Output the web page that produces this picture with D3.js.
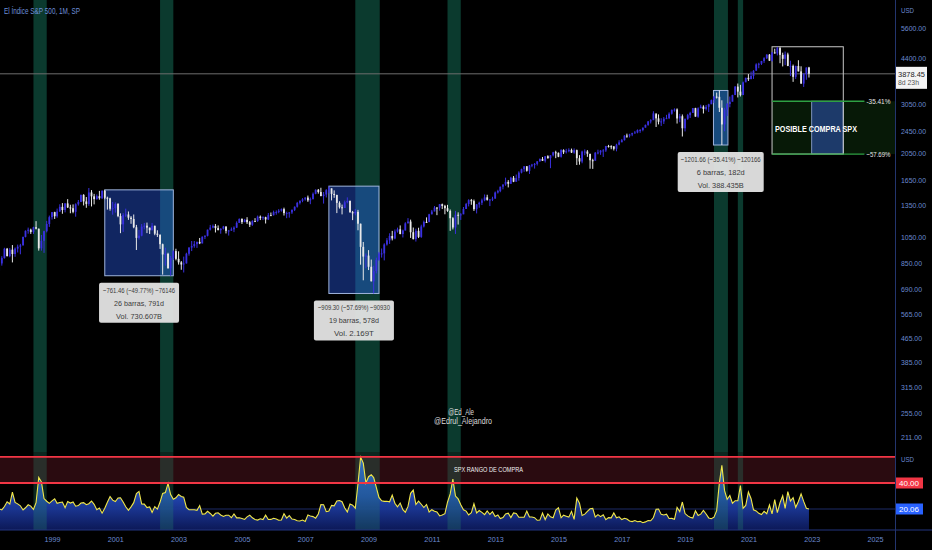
<!DOCTYPE html>
<html><head><meta charset="utf-8">
<script src="https://cdn.jsdelivr.net/npm/d3@7"></script>
<style>html,body{margin:0;padding:0;background:#000;overflow:hidden}svg{display:block}</style>
</head><body>
<svg id="c" width="932" height="550"></svg>
<script>
// ---------- DATA ----------
const firstMonth = [1997, 0];          // Jan 1997
const firstOpen = 740.74;              // Dec 1996 close
const closes = [
786.16,790.82,757.12,801.34,848.28,885.14,954.31,899.47,947.28,914.62,955.40,970.43,
980.28,1049.34,1101.75,1111.75,1090.82,1133.84,1120.67,957.28,1017.01,1098.67,1163.63,1229.23,
1279.64,1238.33,1286.37,1335.18,1301.84,1372.71,1328.72,1320.41,1282.71,1362.93,1388.91,1469.25,
1394.46,1366.42,1498.58,1452.43,1420.60,1454.60,1430.83,1517.68,1436.51,1429.40,1314.95,1320.28,
1366.01,1239.94,1160.33,1249.46,1255.82,1224.42,1211.23,1133.58,1040.94,1059.78,1139.45,1148.08,
1130.20,1106.73,1147.39,1076.92,1067.14,989.82,911.62,916.07,815.28,885.76,936.31,879.82,
855.70,841.15,848.18,916.92,963.59,974.50,990.31,1008.01,995.97,1050.71,1058.20,1111.92,
1131.13,1144.94,1126.21,1107.30,1120.68,1140.84,1101.72,1104.24,1114.58,1130.20,1173.82,1211.92,
1181.27,1203.60,1180.59,1156.85,1191.50,1191.33,1234.18,1220.33,1228.81,1207.01,1249.48,1248.29,
1280.08,1280.66,1294.83,1310.61,1270.09,1270.20,1276.66,1303.82,1335.85,1377.94,1400.63,1418.30,
1438.24,1406.82,1420.86,1482.37,1530.62,1503.35,1455.27,1473.99,1526.75,1549.38,1481.14,1468.36,
1378.55,1330.63,1322.70,1385.59,1400.38,1280.00,1267.38,1282.83,1166.36,968.75,896.24,903.25,
825.88,735.09,797.87,872.81,919.14,919.32,987.48,1020.62,1057.08,1036.19,1095.63,1115.10,
1073.87,1104.49,1169.43,1186.69,1089.41,1030.71,1101.60,1049.33,1141.20,1183.26,1180.55,1257.64,
1286.12,1327.22,1325.83,1363.61,1345.20,1320.64,1292.28,1218.89,1131.42,1253.30,1246.96,1257.60,
1312.41,1365.68,1408.47,1397.91,1310.33,1362.16,1379.32,1406.58,1440.67,1412.16,1416.18,1426.19,
1498.11,1514.68,1569.19,1597.57,1630.74,1606.28,1685.73,1632.97,1681.55,1756.54,1805.81,1848.36,
1782.59,1859.45,1872.34,1883.95,1923.57,1960.23,1930.67,2003.37,1972.29,2018.05,2067.56,2058.90,
1994.99,2104.50,2067.89,2085.51,2107.39,2063.11,2103.84,1972.18,1920.03,2079.36,2080.41,2043.94,
1940.24,1932.23,2059.74,2065.30,2096.95,2098.86,2173.60,2170.95,2168.27,2126.15,2198.81,2238.83,
2278.87,2363.64,2362.72,2384.20,2411.80,2423.41,2470.30,2471.65,2519.36,2575.26,2647.58,2673.61,
2823.81,2713.83,2640.87,2648.05,2705.27,2718.37,2816.29,2901.52,2913.98,2711.74,2760.17,2506.85,
2704.10,2784.49,2834.40,2945.83,2752.06,2941.76,2980.38,2926.46,2976.74,3037.56,3140.98,3230.78,
3225.52,2954.22,2584.59,2912.43,3044.31,3100.29,3271.12,3500.31,3363.00,3269.96,3621.63,3756.07,
3714.24,3811.15,3972.89,4181.17,4204.11,4297.50,4395.26,4522.68,4307.54,4605.38,4567.00,4766.18,
4515.55,4373.94,4530.41,4131.93,4132.15,3785.38,4130.29,3955.00,3585.62,3871.98,4080.11,3878.45];
const highs = [
794.67,817.68,814.90,804.13,851.87,898.70,961.72,960.32,960.46,983.12,963.88,986.25,
992.65,1051.41,1105.65,1130.52,1121.02,1138.49,1190.58,1121.67,1066.11,1102.94,1192.97,1244.93,
1280.37,1283.70,1316.55,1362.80,1375.98,1375.03,1420.33,1357.74,1361.71,1373.17,1410.50,1473.00,
1478.00,1444.55,1552.87,1527.19,1481.51,1474.64,1517.32,1525.21,1530.09,1448.72,1436.28,1389.06,
1383.37,1376.38,1267.42,1269.30,1315.93,1286.62,1239.78,1255.81,1155.40,1110.61,1163.38,1173.62,
1176.97,1130.20,1173.94,1147.84,1106.59,1070.74,994.46,962.70,924.02,900.96,941.82,954.28,
935.05,864.64,895.90,924.24,965.38,1015.33,1015.41,1011.01,1040.29,1053.79,1063.65,1112.56,
1155.38,1158.98,1163.23,1150.57,1123.95,1146.18,1140.84,1109.68,1131.54,1142.05,1188.46,1217.33,
1217.80,1212.44,1229.11,1191.88,1199.56,1219.59,1245.15,1245.86,1237.91,1233.34,1270.64,1275.80,
1294.90,1297.57,1310.88,1318.16,1326.70,1284.72,1280.42,1306.74,1340.28,1389.45,1407.89,1431.81,
1441.61,1461.57,1438.89,1498.02,1535.56,1540.56,1555.90,1503.89,1538.74,1576.09,1545.79,1523.57,
1471.77,1396.02,1359.68,1404.57,1440.24,1404.05,1292.17,1313.15,1303.04,1167.03,1007.51,918.85,
943.85,875.01,832.98,888.70,930.17,956.23,996.68,1039.47,1080.15,1101.36,1113.69,1130.38,
1150.45,1112.42,1180.16,1219.80,1205.13,1131.23,1120.95,1129.24,1157.16,1196.14,1227.08,1262.60,
1302.67,1344.07,1332.28,1366.31,1370.58,1356.48,1356.48,1307.38,1229.29,1292.66,1277.55,1269.37,
1333.47,1378.04,1419.15,1422.38,1415.32,1363.46,1391.74,1426.68,1474.51,1470.96,1419.70,1448.00,
1509.94,1530.94,1570.28,1597.57,1687.18,1654.19,1698.78,1709.67,1729.86,1775.22,1813.55,1849.44,
1850.84,1867.92,1883.97,1897.28,1924.03,1968.17,1991.39,2005.04,2019.26,2018.19,2075.76,2093.55,
2064.43,2119.59,2117.52,2125.92,2134.72,2129.87,2132.82,2112.66,2020.86,2094.32,2116.48,2104.27,
2038.20,1962.96,2072.21,2111.05,2103.48,2120.55,2177.09,2193.81,2187.87,2169.60,2214.10,2277.53,
2300.99,2371.54,2400.98,2398.16,2418.71,2453.82,2484.04,2490.87,2519.44,2582.98,2657.74,2694.97,
2872.87,2789.15,2801.90,2717.49,2742.10,2791.47,2848.03,2916.50,2940.91,2939.86,2815.15,2800.18,
2708.95,2813.49,2860.31,2949.52,2954.13,2964.15,3027.98,3013.59,3021.99,3050.10,3154.26,3247.93,
3337.77,3393.52,3136.72,2954.86,3068.67,3233.13,3279.99,3514.77,3588.11,3549.85,3645.99,3760.20,
3870.90,3950.43,3994.41,4218.78,4238.04,4302.43,4429.97,4537.36,4545.85,4608.08,4743.83,4808.93,
4818.62,4595.31,4637.30,4593.45,4307.66,4177.51,4140.15,4325.28,4119.28,3905.42,4080.11,4100.96];
const lows = [
737.01,773.43,756.13,733.54,793.21,833.40,882.03,897.41,891.36,855.27,894.57,926.07,
912.83,979.77,1045.18,1076.70,1074.67,1074.67,1114.30,939.98,939.87,923.32,1087.99,1136.89,
1205.46,1211.66,1223.50,1282.24,1263.11,1277.36,1323.19,1268.37,1268.37,1233.70,1348.34,1387.38,
1350.14,1325.07,1346.62,1339.40,1361.59,1413.91,1413.89,1421.05,1419.44,1305.79,1294.90,1254.07,
1274.62,1228.75,1081.19,1091.99,1232.00,1203.03,1165.54,1124.87,944.75,1026.76,1054.31,1114.51,
1081.66,1074.36,1106.73,1063.46,1048.96,952.92,775.68,833.44,815.28,768.63,872.05,869.45,
840.34,806.29,788.90,847.85,902.83,936.69,962.10,960.84,990.36,995.97,1031.20,1053.41,
1105.08,1124.44,1087.16,1107.23,1076.32,1113.32,1078.78,1060.72,1101.29,1090.19,1127.60,1173.76,
1163.75,1180.59,1163.69,1136.15,1146.18,1188.30,1183.55,1201.07,1201.07,1168.20,1201.07,1246.59,
1245.74,1253.61,1268.42,1284.60,1245.34,1219.29,1224.54,1261.30,1290.93,1327.10,1360.98,1385.93,
1403.97,1389.42,1363.98,1416.37,1476.70,1484.18,1454.25,1370.60,1439.29,1489.56,1406.10,1435.65,
1270.05,1316.75,1256.98,1324.35,1373.07,1272.00,1200.44,1247.45,1106.42,839.80,741.02,815.69,
804.30,734.52,666.79,783.32,866.10,888.86,869.32,978.51,992.25,1020.18,1029.38,1085.89,
1071.59,1044.50,1105.36,1170.69,1040.78,1028.33,1010.91,1039.70,1041.35,1131.87,1173.00,1186.60,
1257.62,1289.14,1249.05,1294.70,1311.80,1258.07,1282.86,1101.54,1114.22,1074.77,1158.66,1202.37,
1258.86,1312.41,1340.03,1357.38,1291.98,1266.74,1325.41,1354.65,1396.56,1403.28,1343.35,1398.11,
1426.19,1485.01,1501.48,1536.03,1581.28,1560.33,1604.57,1627.47,1633.41,1646.47,1746.20,1767.99,
1770.45,1737.92,1834.44,1814.36,1859.79,1915.98,1930.67,1904.78,1964.04,1820.66,2001.01,1972.56,
1988.12,1980.90,2039.69,2048.38,2067.93,2056.32,2044.02,1867.01,1871.91,1893.70,2019.39,1993.26,
1812.29,1810.10,1937.09,2033.80,2025.91,1991.68,2074.02,2147.58,2119.12,2097.85,2083.79,2187.44,
2245.13,2271.65,2322.25,2328.95,2352.72,2405.70,2407.70,2417.35,2446.55,2520.40,2557.45,2605.18,
2682.36,2532.69,2585.89,2553.80,2594.62,2698.67,2698.95,2796.34,2864.12,2603.54,2631.09,2346.58,
2443.96,2681.83,2722.27,2848.63,2750.52,2728.81,2952.22,2822.12,2891.85,2855.94,3050.72,3070.33,
3181.72,2855.84,2191.86,2447.49,2766.64,2965.66,3115.01,3284.53,3209.45,3233.94,3279.74,3633.40,
3662.71,3725.62,3723.34,4061.41,4056.88,4164.40,4233.13,4367.73,4305.91,4278.94,4560.00,4495.12,
4222.62,4114.65,4157.87,4124.28,3810.32,3636.87,3723.34,3954.53,3584.13,3491.58,3698.15,3764.49];
const vix = [
19.47,20.03,21.38,20.95,20.10,19.33,22.00,25.60,23.90,33.00,25.10,24.01,
22.50,19.30,21.00,23.30,22.30,19.70,24.90,44.30,40.90,28.10,26.00,24.40,
26.25,27.88,24.39,25.07,25.39,21.09,25.79,24.64,25.41,22.20,22.66,24.64,
24.95,23.37,24.11,26.20,23.65,19.54,20.74,16.84,20.57,25.29,29.65,26.85,
25.80,28.52,28.64,25.48,21.74,19.06,21.68,24.92,31.93,33.56,23.84,23.80,
21.09,21.59,17.40,21.91,19.98,25.40,32.03,32.64,39.69,31.14,27.50,28.62,
31.17,29.63,29.15,21.21,19.47,19.52,19.49,19.04,22.72,16.10,16.32,18.31,
16.63,14.55,16.74,17.19,15.50,14.34,15.32,15.29,13.34,16.27,13.24,13.29,
12.82,12.08,14.02,15.31,13.29,12.04,11.57,12.60,11.92,15.32,12.06,12.07,
12.95,12.34,11.39,11.59,16.44,13.08,14.95,12.31,11.98,11.10,10.91,11.56,
10.42,15.42,14.64,14.22,13.05,16.23,23.52,23.38,18.00,18.53,22.87,22.50,
26.20,26.54,25.61,20.79,17.83,23.95,22.94,20.65,39.39,59.89,55.28,40.00,
44.84,46.35,44.14,36.50,28.92,26.35,25.92,26.01,25.61,30.69,24.51,21.68,
24.62,19.50,17.59,22.05,32.07,34.54,23.50,26.05,23.70,21.20,23.54,17.75,
19.53,18.35,17.74,14.75,15.45,16.52,25.25,31.62,42.96,29.96,27.80,23.40,
19.44,18.43,15.50,17.15,24.06,17.08,18.93,17.47,15.73,18.60,15.87,18.02,
14.28,15.51,12.70,13.52,16.30,16.86,13.45,17.01,16.60,13.75,13.70,13.72,
18.41,14.00,13.88,13.41,11.40,11.57,16.95,11.98,16.31,14.03,13.33,19.20,
20.97,13.34,15.29,14.55,13.84,18.23,12.12,28.43,24.50,15.07,16.13,18.21,
20.20,20.55,13.95,15.70,14.19,15.63,11.87,13.42,13.29,17.06,13.33,14.04,
11.99,12.92,12.37,10.82,10.41,11.18,10.26,10.59,9.51,10.18,11.28,11.04,
13.54,19.85,19.97,15.93,15.43,16.09,12.83,12.86,12.12,21.23,18.07,25.42,
16.57,14.78,13.71,13.12,18.71,15.08,16.12,18.98,16.24,13.22,12.62,13.78,
18.84,40.11,53.54,34.15,27.51,30.43,24.46,26.41,26.37,38.02,20.57,22.75,
33.09,27.95,19.40,18.61,16.76,15.83,18.24,16.48,23.14,16.26,27.19,17.22,
24.83,30.15,20.56,33.40,26.19,28.71,21.33,25.87,31.62,25.88,20.58,20.06];

const priceTicks = [211,255,315,385,465,565,690,850,1050,1350,1650,2050,2450,3050,4400,5600];
const yearTicks = [1999,2001,2003,2005,2007,2009,2011,2013,2015,2017,2019,2021,2023,2025];
const bandStarts = ["1998-06-01","2002-06-01","2008-08-01","2011-07-01","2019-12-01","2020-09-01"];
const bandEnds   = ["1998-11-01","2002-11-01","2009-05-10","2011-12-01","2020-05-10","2020-11-01"];
const ddStart = ["2000-09-01","2007-10-01","2019-11-25"];
const ddEnd   = ["2002-11-01","2009-05-01","2020-05-10"];
const ddHigh  = [1530.09,1576.09,3393.52];
const ddLow   = [768.63,666.79,2191.86];
const ddText  = [
  ["\u2212761.46 (\u221249.77%) \u221276146","26 barras, 791d","Vol. 730.607B"],
  ["\u2212909.30 (\u221257.69%) \u221290930","19 barras, 578d","Vol. 2.169T"],
  ["\u22121201.66 (\u221235.41%) \u2212120166","6 barras, 182d","Vol. 388.435B"]];
const projPeak = 4818.62;
const projLevels = [3112.35, 2038.76];
const projLabels = ["-35.41%","\u221257.69%"];
const projDates = ["2021-10-01","2023-01-01","2024-01-01","2024-09-01"];
const lastPrice = 3878.45, lastTimer = "8d 23h";
const vixZone = [40, 60];
const vixLast = 20.06;

// ---------- SETUP ----------
const W = 932, H = 550, AX = 895, PRICE_BOTTOM = 452, IND_TOP = 452, IND_BOTTOM = 530;
const FONT = "'Liberation Sans', Arial, sans-serif";
const svg = d3.select("#c");
svg.append("rect").attr("width",W).attr("height",H).attr("fill","#000");
const P = s => new Date(s + "T00:00:00Z");
const x = d3.scaleUtc().domain([Date.UTC(1999,0,1), Date.UTC(2025,0,1)]).range([52, 875]);
const y = d3.scaleLog().domain([211, 5600]).range([437, 28]);
const yv = d3.scaleLinear().domain([vixLast, 40]).range([509, 483]);

function txt(parent, xx, yy, str, size, color, opts={}) {
  const t = parent.append("text").attr("x",xx).attr("y",yy).attr("dy","0.35em")
    .attr("fill",color).attr("font-family",FONT).attr("font-size",size).text(str);
  if (opts.anchor) t.attr("text-anchor",opts.anchor);
  if (opts.weight) t.attr("font-weight",opts.weight);
  if (opts.len) t.attr("textLength",opts.len).attr("lengthAdjust","spacingAndGlyphs");
  return t;
}

const defs = svg.append("defs");
defs.append("clipPath").attr("id","cp").append("rect").attr("x",0).attr("y",0).attr("width",AX).attr("height",PRICE_BOTTOM);
defs.append("clipPath").attr("id","ci").append("rect").attr("x",0).attr("y",IND_TOP).attr("width",AX).attr("height",IND_BOTTOM-IND_TOP);
const grad = defs.append("linearGradient").attr("id","vg").attr("gradientUnits","userSpaceOnUse")
  .attr("x1",0).attr("x2",0).attr("y1",456).attr("y2",IND_BOTTOM);
grad.append("stop").attr("offset",0).attr("stop-color","#3a6cf0");
grad.append("stop").attr("offset",0.55).attr("stop-color","#2348b8");
grad.append("stop").attr("offset",1).attr("stop-color","#0d1a5c");

const candles = closes.map((c,i)=>({
  date: new Date(Date.UTC(firstMonth[0], firstMonth[1]+i, 1)),
  open: i===0 ? firstOpen : closes[i-1], close: c, high: highs[i], low: lows[i], v: vix[i]}));

// ---------- BANDS (behind) ----------
const bandG = svg.append("g");
bandStarts.forEach((s,i)=>{
  bandG.append("rect").attr("x",x(P(s))).attr("width",x(P(bandEnds[i]))-x(P(s)))
    .attr("y",0).attr("height",PRICE_BOTTOM).attr("fill","#0b3a2e");
});

// ---------- PRICE PANE ----------
const pg = svg.append("g").attr("clip-path","url(#cp)");
pg.append("line").attr("x1",0).attr("x2",AX).attr("y1",y(lastPrice)).attr("y2",y(lastPrice))
  .attr("stroke","#6e6e6e").attr("stroke-width",1);

ddStart.forEach((s,i)=>{
  const x0 = x(P(s)), x1 = x(P(ddEnd[i]));
  pg.append("rect").attr("x",x0).attr("y",y(ddHigh[i])).attr("width",x1-x0).attr("height",y(ddLow[i])-y(ddHigh[i]))
    .attr("fill","rgba(45,100,255,0.38)").attr("stroke","#9fb4dc").attr("stroke-width",1);
});

const px0 = x(P(projDates[0])), px1 = x(P(projDates[1])), px2 = x(P(projDates[2])), px3 = x(P(projDates[3]));
pg.append("rect").attr("x",px0).attr("y",y(projLevels[0])).attr("width",AX-px0).attr("height",y(projLevels[1])-y(projLevels[0]))
  .attr("fill","rgba(40,150,40,0.17)");
pg.append("rect").attr("x",px1).attr("y",y(projLevels[0])).attr("width",px2-px1).attr("height",y(projLevels[1])-y(projLevels[0]))
  .attr("fill","#1d3a6a").attr("stroke","#7f93b8").attr("stroke-width",1);
pg.append("rect").attr("x",px0).attr("y",y(projPeak)).attr("width",px2-px0).attr("height",y(projLevels[1])-y(projPeak))
  .attr("fill","none").attr("stroke","#c8c8c8").attr("stroke-width",1);
projLevels.forEach((lv,i)=>{
  pg.append("line").attr("x1",px0).attr("x2",px3).attr("y1",y(lv)).attr("y2",y(lv))
    .attr("stroke","#2ea043").attr("stroke-width",1.3);
  txt(svg, px3+2, y(lv), projLabels[i], 8, "#e6e6e6", {len:24});
});

// candles
const upC = "#3a30e0", dnC = "#e9e9e9";
const cg = pg.append("g");
cg.selectAll("line").data(candles).join("line")
  .attr("x1",d=>x(d.date)).attr("x2",d=>x(d.date))
  .attr("y1",d=>y(d.high)).attr("y2",d=>y(d.low))
  .attr("stroke",d=>d.close>=d.open?upC:dnC).attr("stroke-width",1);
cg.selectAll("rect").data(candles).join("rect")
  .attr("x",d=>x(d.date)-0.9).attr("width",1.8)
  .attr("y",d=>y(Math.max(d.open,d.close)))
  .attr("height",d=>Math.max(1, Math.abs(y(d.open)-y(d.close))))
  .attr("fill",d=>d.close>=d.open?upC:dnC);

txt(svg, 775, (y(projLevels[0])+y(projLevels[1]))/2+1, "POSIBLE COMPRA SPX", 9.5, "#ffffff", {weight:"bold", len:82});

const ddTextW = [[72,50,46],[72,50,40],[80,48,46]];
ddStart.forEach((s,i)=>{
  const cx = (x(P(s)) + x(P(ddEnd[i])))/2;
  const top = y(ddLow[i]) + 7;
  const w = i===2 ? 86 : 80;
  svg.append("rect").attr("x",cx-w/2).attr("y",top).attr("width",w).attr("height",40).attr("rx",2)
    .attr("fill","#e4e4e4").attr("fill-opacity",0.95);
  ddText[i].forEach((t,j)=>{
    txt(svg, cx, top+7+j*13, t, 8, "#3a3a3a", {anchor:"middle", len:ddTextW[i][j]});
  });
});

// ---------- INDICATOR PANE ----------
const ig = svg.append("g").attr("clip-path","url(#ci)");
ig.append("rect").attr("x",0).attr("width",AX).attr("y",yv(vixZone[1])).attr("height",yv(vixZone[0])-yv(vixZone[1]))
  .attr("fill","#2a0b10");
ig.append("line").attr("x1",0).attr("x2",AX).attr("y1",yv(vixLast)).attr("y2",yv(vixLast)).attr("stroke","#1c2a66").attr("stroke-width",1);
ig.append("path").datum(candles).attr("fill","url(#vg)").attr("fill-opacity",0.95)
  .attr("d",d3.area().x(d=>x(d.date)).y0(IND_BOTTOM).y1(d=>yv(d.v)));
bandStarts.forEach((s,i)=>{
  ig.append("rect").attr("x",x(P(s))).attr("width",x(P(bandEnds[i]))-x(P(s)))
    .attr("y",IND_TOP).attr("height",IND_BOTTOM-IND_TOP).attr("fill","rgba(40,140,110,0.28)");
});
ig.append("path").datum(candles).attr("fill","none").attr("stroke","#f2e84a").attr("stroke-width",1.1)
  .attr("d",d3.line().x(d=>x(d.date)).y(d=>yv(d.v)));
vixZone.forEach(v=>{
  ig.append("line").attr("x1",0).attr("x2",AX).attr("y1",yv(v)).attr("y2",yv(v)).attr("stroke","#f23645").attr("stroke-width",1.8);
});
txt(svg, 454, (yv(vixZone[0])+yv(vixZone[1]))/2-0.5, "SPX RANGO DE COMPRA", 7.5, "#f0f0f0", {len:69});
svg.append("line").attr("x1",0).attr("x2",W).attr("y1",IND_BOTTOM).attr("y2",IND_BOTTOM).attr("stroke","#22347f").attr("stroke-width",1);

txt(svg, 448, 412, "@Ed_Ale", 8.5, "#dcdcdc", {len:26});
txt(svg, 434, 421, "@Edrul_Alejandro", 8.5, "#dcdcdc", {len:58});

// ---------- AXES ----------
const axisColor = "#6a8ad0";
svg.append("line").attr("x1",AX+0.5).attr("x2",AX+0.5).attr("y1",0).attr("y2",H).attr("stroke","#23356e").attr("stroke-width",1);
const ya = svg.append("g").attr("transform",`translate(${AX},0)`)
  .call(d3.axisRight(y).tickValues(priceTicks).tickFormat(d=>d.toFixed(2)).tickSize(0).tickPadding(6));
ya.select(".domain").remove();
ya.selectAll("text").attr("fill",axisColor).attr("font-family",FONT).attr("font-size",7.8)
  .attr("textLength",d=>d>=1000?25:21).attr("lengthAdjust","spacingAndGlyphs");
txt(svg, AX+6, 10, "USD", 7.8, axisColor, {len:13});
txt(svg, AX+6, 459, "USD", 7.8, axisColor, {len:13});

const xa = svg.append("g").attr("transform",`translate(0,${IND_BOTTOM})`)
  .call(d3.axisBottom(x).tickValues(yearTicks.map(yr=>new Date(Date.UTC(yr,0,1)))).tickFormat(d3.utcFormat("%Y")).tickSize(0).tickPadding(6));
xa.select(".domain").remove();
xa.selectAll("text").attr("fill",axisColor).attr("font-family",FONT).attr("font-size",7.8)
  .attr("textLength",16).attr("lengthAdjust","spacingAndGlyphs");

const ly = y(lastPrice);
svg.append("rect").attr("x",AX+1).attr("y",ly-7).attr("width",31).attr("height",22).attr("fill","#f4f4f4");
txt(svg, AX+3, ly, lastPrice.toFixed(2), 8, "#1a1a1a", {len:27});
txt(svg, AX+3, ly+8, lastTimer, 8, "#555", {len:21});

svg.append("rect").attr("x",AX+1).attr("y",yv(40)-5.5).attr("width",27).attr("height",11).attr("fill","#f23645");
txt(svg, AX+4, yv(40), "40.00", 8, "#fff", {len:20});
svg.append("rect").attr("x",AX+1).attr("y",yv(vixLast)-5.5).attr("width",27).attr("height",11).attr("fill","#2962ff");
txt(svg, AX+4, yv(vixLast), vixLast.toFixed(2), 8, "#fff", {len:20});

txt(svg, 4, 11, "El Índice S&P 500, 1M, SP", 8.5, "#6d8fd8", {len:76});
</script>
</body></html>
